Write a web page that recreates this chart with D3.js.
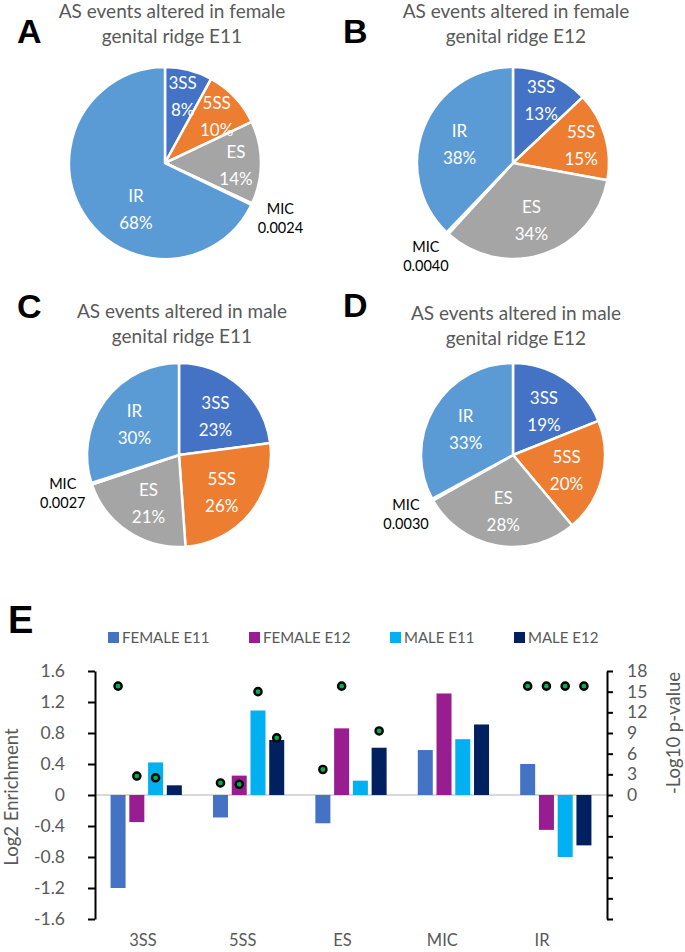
<!DOCTYPE html>
<html><head><meta charset="utf-8">
<script src="https://cdn.jsdelivr.net/npm/d3@7"></script>
<style>
html,body{margin:0;padding:0;background:#fff;}
svg{display:block;font-family:Lato,"Open Sans",sans-serif;}
</style></head>
<body>
<svg id="chart" width="685" height="952"></svg>
<script>
// ---------- DATA ----------
const pieCategories = ["3SS", "5SS", "ES", "MIC", "IR"];
const pieTitles = [
  ["AS events altered in female", "genital ridge E11"],
  ["AS events altered in female", "genital ridge E12"],
  ["AS events altered in male", "genital ridge E11"],
  ["AS events altered in male", "genital ridge E12"]
];
const panelLetters = ["A", "B", "C", "D"];
// percentages (MIC given as fraction label)
const pieFemaleE11 = [8, 10, 14, 0.24, 68];
const pieFemaleE12 = [13, 15, 34, 0.40, 38];
const pieMaleE11   = [23, 26, 21, 0.27, 30];
const pieMaleE12   = [19, 20, 28, 0.30, 33];
const micLabels = ["0.0024", "0.0040", "0.0027", "0.0030"];

const barCategories = ["3SS", "5SS", "ES", "MIC", "IR"];
const seriesNames = ["FEMALE E11", "FEMALE E12", "MALE E11", "MALE E12"];
// Log2 enrichment per category
const enrichFemaleE11 = [-1.20, -0.29, -0.365, 0.58, 0.40];
const enrichFemaleE12 = [-0.35, 0.25, 0.86, 1.31, -0.45];
const enrichMaleE11   = [0.42, 1.09, 0.185, 0.72, -0.80];
const enrichMaleE12   = [0.125, 0.71, 0.61, 0.91, -0.65];
// -Log10 p-value (null = no marker)
const pvalFemaleE11 = [15.8, 1.75, 3.7, null, 15.8];
const pvalFemaleE12 = [2.75, 1.55, 15.8, null, 15.8];
const pvalMaleE11   = [2.5, 15.0, null, null, 15.8];
const pvalMaleE12   = [null, 8.3, 9.3, null, 15.8];
const leftTicks = [-1.6, -1.2, -0.8, -0.4, 0, 0.4, 0.8, 1.2, 1.6];
const rightTicks = [-18, -15, -12, -9, -6, -3, 0, 3, 6, 9, 12, 15, 18];

// ---------- STYLE ----------
const pieColors = {"3SS":"#4472C4","5SS":"#ED7D31","ES":"#A5A5A5","MIC":"#FFC000","IR":"#5B9BD5"};
const seriesColors = ["#4472C4", "#971D91", "#00B0F0", "#002060"];
const gray = "#595959";

const svg = d3.select("#chart");

// ---------- PIES ----------
const pieData = [pieFemaleE11, pieFemaleE12, pieMaleE11, pieMaleE12];
const pieLayout = [
  {cx:165, cy:163, r:96, tx:172, ty:18, lx:17, ly:43},
  {cx:513, cy:163, r:96, tx:516, ty:18, lx:343, ly:43},
  {cx:179, cy:455, r:92, tx:182, ty:318, lx:17, ly:318},
  {cx:513, cy:455, r:92, tx:516, ty:320, lx:343, ly:317}
];
const pie = d3.pie().sort(null).value(d => d.v);

pieData.forEach((vals, i) => {
  const L = pieLayout[i];
  const g = svg.append("g").attr("transform", `translate(${L.cx},${L.cy})`);
  const arcs = pie(vals.map((v, j) => ({k: pieCategories[j], v})));
  const arc = d3.arc().innerRadius(0).outerRadius(L.r);
  g.selectAll("path").data(arcs).join("path")
    .attr("d", arc)
    .attr("fill", d => pieColors[d.data.k])
    .attr("stroke", "#fff").attr("stroke-width", 2.5).attr("stroke-linejoin", "round");

  arcs.forEach(d => {
    let mid = (d.startAngle + d.endAngle) / 2;
    if (d.data.k === "MIC") {
      const rr = L.r * 1.33;
      const x = Math.sin(mid) * rr, y = -Math.cos(mid) * rr;
      const t = g.append("text").attr("text-anchor", "middle").attr("fill", "#000")
        .style("font-size", "14.5px");
      t.append("tspan").attr("x", x).attr("y", y - 4).text("MIC");
      t.append("tspan").attr("x", x).attr("y", y + 15).text(micLabels[i]);
    } else {
      let frac = d.data.v < 17 ? 0.74 : 0.6;
      // very large slices: label pulled toward the slice's lower part
      if (d.data.v > 50) { mid = d.startAngle + (d.endAngle - d.startAngle) * 0.4; frac = 0.55; }
      const rr = L.r * frac;
      const x = Math.sin(mid) * rr, y = -Math.cos(mid) * rr;
      const t = g.append("text").attr("text-anchor", "middle").attr("fill", "#fff")
        .style("font-size", "17px");
      t.append("tspan").attr("x", x).attr("y", y - 5).text(d.data.k);
      t.append("tspan").attr("x", x).attr("y", y + 22).text(Math.round(d.data.v) + "%");
    }
  });

  const tt = svg.append("text").attr("text-anchor", "middle").attr("fill", gray)
    .style("font-size", "19px");
  pieTitles[i].forEach((line, j) =>
    tt.append("tspan").attr("x", L.tx).attr("y", L.ty + j * 25).text(line));
  svg.append("text").attr("x", L.lx).attr("y", L.ly)
    .style("font-family", "'Liberation Sans',Arial,sans-serif")
    .style("font-weight", "bold").style("font-size", "34px").text(panelLetters[i]);
});

// ---------- BAR CHART ----------
const plot = {left: 95, right: 607, top: 671, bottom: 919};
const x0 = d3.scaleBand().domain(barCategories).range([plot.left, plot.right]);
const x1 = d3.scaleBand().domain(seriesNames).range([-37.5, 37.5]).paddingInner(0.2).paddingOuter(0.1);
const yL = d3.scaleLinear().domain([-1.6, 1.6]).range([plot.bottom, plot.top]);
const yR = d3.scaleLinear().domain([-18, 18]).range([plot.bottom, plot.top]);
const xLab = d3.scaleBand().domain(barCategories).range([93, 592]);

svg.append("text").attr("x", 8).attr("y", 633)
  .style("font-family", "'Liberation Sans',Arial,sans-serif")
  .style("font-weight", "bold").style("font-size", "38px").text("E");

// legend
const legX = [108, 249, 390, 514];
seriesNames.forEach((s, i) => {
  svg.append("rect").attr("x", legX[i]).attr("y", 632).attr("width", 11).attr("height", 11)
    .attr("fill", seriesColors[i]);
  svg.append("text").attr("x", legX[i] + 14).attr("y", 643).attr("fill", gray)
    .style("font-size", "15px").text(s);
});

// zero line
svg.append("line").attr("x1", plot.left).attr("x2", plot.right)
  .attr("y1", yL(0)).attr("y2", yL(0)).attr("stroke", "#D9D9D9").attr("stroke-width", 2);

const enrich = [enrichFemaleE11, enrichFemaleE12, enrichMaleE11, enrichMaleE12];
const pvals = [pvalFemaleE11, pvalFemaleE12, pvalMaleE11, pvalMaleE12];

barCategories.forEach((c, ci) => {
  const g = svg.append("g").attr("transform", `translate(${x0(c) + x0.bandwidth() / 2},0)`);
  seriesNames.forEach((s, si) => {
    const v = enrich[si][ci];
    g.append("rect").attr("x", x1(s)).attr("width", x1.bandwidth())
      .attr("y", Math.min(yL(v), yL(0))).attr("height", Math.abs(yL(v) - yL(0)))
      .attr("fill", seriesColors[si]);
  });
  seriesNames.forEach((s, si) => {
    const p = pvals[si][ci];
    if (p == null) return;
    g.append("circle").attr("cx", x1(s) + x1.bandwidth() / 2).attr("cy", yR(p)).attr("r", 3.6)
      .attr("fill", "#00B050").attr("stroke", "#000").attr("stroke-width", 2.4);
  });
});

const fmt = d => d === 0 ? "0" : (d < 0 ? "-" : "") + Math.abs(d).toFixed(1);
const axL = svg.append("g").attr("transform", `translate(${plot.left},0)`)
  .call(d3.axisLeft(yL).tickValues(leftTicks).tickFormat(fmt).tickSize(7).tickSizeOuter(0).tickPadding(23));
const axR = svg.append("g").attr("transform", `translate(${plot.right},0)`)
  .call(d3.axisRight(yR).tickValues(rightTicks).tickFormat(d => d >= 0 ? d : "").tickSize(6).tickSizeOuter(0).tickPadding(14));
[axL, axR].forEach(a => {
  a.select(".domain").attr("stroke", "#000").attr("stroke-width", 2);
  a.selectAll(".tick line").attr("stroke", "#000").attr("stroke-width", 2);
  a.selectAll(".tick text").attr("fill", gray).style("font-size", "17.5px").style("font-family", "Lato,sans-serif");
});

// category labels
svg.append("g").selectAll("text").data(barCategories).join("text")
  .attr("x", d => xLab(d) + xLab.bandwidth() / 2).attr("y", 946)
  .attr("text-anchor", "middle").attr("fill", gray).style("font-size", "16.5px").text(d => d);

// axis titles
svg.append("text").attr("transform", `translate(18,797) rotate(-90)`)
  .attr("text-anchor", "middle").attr("fill", gray).style("font-size", "18.5px").text("Log2 Enrichment");
svg.append("text").attr("transform", `translate(680,733) rotate(-90)`)
  .attr("text-anchor", "middle").attr("fill", gray).style("font-size", "18.5px").text("-Log10 p-value");
</script>
</body></html>
